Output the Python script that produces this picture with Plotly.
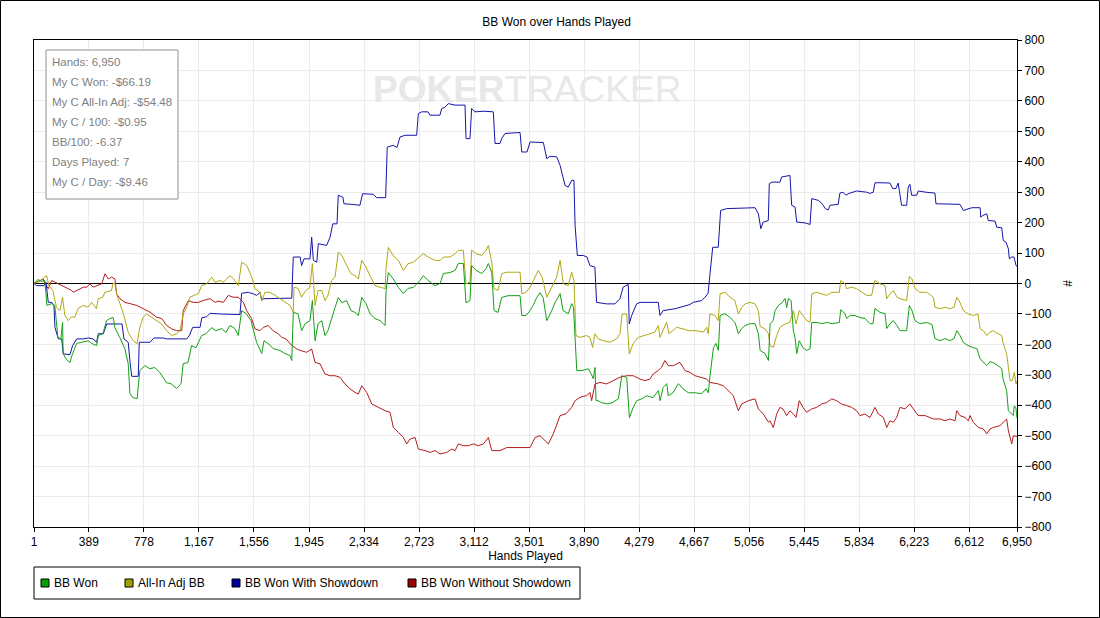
import plotly.graph_objects as go

# ---- data (hands played, BB) ----
tick_hands = [1, 389, 778, 1167, 1556, 1945, 2334, 2723, 3112, 3501, 3890,
              4279, 4667, 5056, 5445, 5834, 6223, 6612, 6950]

bb_won = [
    (1, 0), (28, 13), (57, 7), (78, 10), (92, -72), (127, -66), (148, -72), (170, -178),
    (191, -181), (203, -128), (207, -230), (226, -247), (255, -260), (269, -237), (302, -197),
    (339, -194), (384, -188), (410, -197), (443, -204), (456, -171), (488, -165), (514, -122),
    (537, -115), (561, -112), (573, -145), (608, -178), (643, -214), (667, -263), (679, -362),
    (700, -375), (730, -378), (749, -286), (785, -270), (820, -280), (855, -276), (891, -293),
    (938, -326), (969, -329), (1009, -345), (1040, -329), (1056, -263), (1089, -260),
    (1115, -204), (1146, -211), (1186, -171), (1217, -165), (1257, -145), (1287, -155),
    (1329, -148), (1357, -161), (1386, -138), (1421, -148), (1445, -171), (1469, -89),
    (1500, -99), (1535, -122), (1575, -194), (1611, -230), (1627, -188), (1655, -197),
    (1693, -214), (1740, -220), (1775, -230), (1811, -237), (1823, -253), (1834, -95),
    (1867, -99), (1893, -155), (1917, -132), (1952, -122), (1969, -56), (1988, -188),
    (2009, -132), (2035, -122), (2058, -171), (2079, -155), (2105, -112), (2129, -79),
    (2152, -46), (2178, -63), (2211, -56), (2242, -89), (2270, -95), (2294, -105),
    (2318, -46), (2348, -66), (2376, -99), (2412, -115), (2447, -122), (2483, -138),
    (2490, -23), (2506, 36), (2539, 16), (2577, -13), (2612, -33), (2645, -16), (2683, -13),
    (2730, 10), (2753, 26), (2787, 10), (2836, -7), (2872, 0), (2895, 33), (2942, 36),
    (2978, 43), (3001, 66), (3036, 66), (3055, -63), (3083, -56), (3095, 59), (3126, 43),
    (3166, 33), (3197, 49), (3213, 66), (3237, 36), (3253, -89), (3281, -95), (3307, -46),
    (3352, -40), (3402, -40), (3437, -40), (3449, -105), (3479, -105), (3508, -89),
    (3529, -72), (3555, -46), (3578, -30), (3600, -46), (3626, -122), (3661, -89),
    (3684, -63), (3720, -33), (3741, -89), (3778, -99), (3802, -66), (3815, -79),
    (3826, -188), (3838, -286), (3875, -286), (3920, -280), (3939, -296), (3955, -313),
    (3967, -276), (3974, -385), (3988, -385), (4014, -392), (4052, -395), (4087, -392),
    (4132, -379), (4156, -303), (4191, -309), (4210, -441), (4236, -408), (4262, -385),
    (4297, -379), (4333, -369), (4377, -375), (4415, -352), (4427, -385), (4448, -342),
    (4474, -329), (4485, -369), (4518, -359), (4556, -329), (4589, -346), (4627, -359),
    (4674, -359), (4721, -362), (4752, -346), (4768, -359), (4780, -303), (4804, -211),
    (4822, -197), (4839, -220), (4851, -105), (4886, -99), (4922, -112), (4957, -128),
    (4980, -165), (5004, -148), (5028, -138), (5063, -132), (5098, -132), (5122, -165),
    (5134, -220), (5169, -230), (5193, -253), (5205, -132), (5226, -122), (5240, -89),
    (5263, -72), (5289, -63), (5310, -49), (5322, -79), (5334, -49), (5353, -56),
    (5369, -155), (5381, -178), (5393, -230), (5411, -188), (5437, -211), (5463, -220),
    (5487, -214), (5499, -128), (5536, -128), (5571, -132), (5605, -128), (5643, -132),
    (5694, -128), (5704, -86), (5734, -99), (5746, -115), (5770, -105), (5805, -105),
    (5840, -112), (5876, -115), (5911, -132), (5932, -132), (5946, -82), (5982, -95),
    (6017, -99), (6029, -148), (6052, -132), (6076, -122), (6102, -138), (6123, -155),
    (6170, -155), (6189, -72), (6208, -89), (6229, -122), (6264, -132), (6312, -128),
    (6349, -135), (6370, -181), (6406, -188), (6441, -181), (6476, -188), (6505, -181),
    (6524, -155), (6547, -171), (6571, -194), (6604, -204), (6641, -211), (6667, -214),
    (6689, -247), (6717, -260), (6736, -270), (6759, -257), (6783, -260), (6816, -270),
    (6842, -280), (6851, -313), (6877, -352), (6889, -418), (6908, -428), (6924, -434),
    (6931, -402), (6943, -411), (6950, -443),
]

allin_adj_bb = [
    (1, 0), (42, 7), (90, 26), (106, -7), (134, -23), (160, -78), (184, -89), (203, -45),
    (219, -105), (243, -122), (267, -109), (290, -111), (313, -82), (349, -72), (382, -78),
    (408, -62), (443, -83), (455, -50), (488, -45), (502, -29), (549, -23), (559, 0),
    (573, 0), (585, -34), (620, -82), (636, -105), (667, -160), (702, -188), (730, -198),
    (749, -144), (773, -111), (797, -100), (832, -111), (868, -122), (903, -133),
    (938, -155), (974, -171), (1009, -165), (1033, -155), (1056, -100), (1080, -78),
    (1104, -45), (1139, -39), (1163, -33), (1186, -7), (1222, -1), (1257, 21), (1281, 4),
    (1316, 10), (1339, 4), (1363, 15), (1386, 26), (1422, 10), (1445, -7), (1469, 70),
    (1505, 59), (1540, 21), (1563, -17), (1599, -29), (1611, -56), (1634, -29),
    (1669, -29), (1705, -39), (1740, -50), (1775, -62), (1811, -72), (1834, -94),
    (1839, -12), (1867, -16), (1893, -45), (1917, -26), (1952, -12), (1969, 65),
    (1988, -72), (2009, -23), (2035, -23), (2058, -56), (2079, -39), (2105, 10), (2129, 21),
    (2152, 103), (2178, 92), (2211, 59), (2242, 32), (2270, 26), (2294, 15), (2318, 76),
    (2348, 54), (2376, 26), (2412, -7), (2447, -12), (2483, -17), (2490, 54), (2506, 119),
    (2539, 92), (2577, 76), (2612, 43), (2645, 65), (2683, 70), (2730, 87), (2753, 98),
    (2787, 87), (2836, 76), (2872, 76), (2895, 87), (2942, 87), (2978, 98), (3001, 109),
    (3036, 109), (3055, -1), (3083, 4), (3095, 109), (3126, 98), (3166, 92), (3197, 109),
    (3213, 125), (3237, 70), (3253, -17), (3281, -23), (3307, 32), (3338, 37), (3380, 37),
    (3437, 37), (3449, -34), (3479, -29), (3508, -12), (3536, 15), (3566, 43), (3593, 21),
    (3626, -45), (3661, -12), (3696, 21), (3720, 76), (3743, -1), (3778, -7), (3802, 37),
    (3818, 10), (3832, -171), (3860, -177), (3908, -171), (3931, -177), (3950, -210),
    (3966, -165), (3990, -182), (4025, -188), (4072, -193), (4120, -182), (4143, -165),
    (4159, -100), (4191, -100), (4209, -231), (4236, -198), (4273, -177), (4308, -171),
    (4355, -165), (4390, -160), (4414, -138), (4426, -177), (4461, -138), (4473, -127),
    (4490, -165), (4544, -144), (4589, -149), (4626, -155), (4685, -155), (4732, -160),
    (4756, -144), (4767, -165), (4779, -100), (4815, -105), (4838, -122), (4851, -34),
    (4886, -29), (4921, -45), (4956, -56), (4980, -100), (5004, -78), (5028, -67),
    (5063, -62), (5098, -67), (5122, -89), (5134, -141), (5169, -149), (5193, -165),
    (5204, -204), (5227, -210), (5251, -171), (5274, -144), (5310, -133), (5345, -127),
    (5369, -89), (5388, -133), (5411, -89), (5437, -105), (5463, -122), (5487, -127),
    (5499, -34), (5534, -29), (5569, -34), (5605, -39), (5640, -29), (5694, -29),
    (5704, 10), (5734, -1), (5746, -17), (5781, -12), (5816, -17), (5852, -29),
    (5887, -39), (5922, -39), (5946, 10), (5982, -1), (6017, -7), (6029, -50), (6052, -34),
    (6076, -23), (6102, -45), (6123, -50), (6170, -56), (6189, 23), (6208, 15),
    (6229, -17), (6264, -29), (6312, -29), (6359, -45), (6370, -78), (6406, -83),
    (6441, -78), (6476, -83), (6505, -78), (6524, -45), (6547, -62), (6571, -89),
    (6604, -100), (6641, -105), (6674, -100), (6689, -149), (6712, -155), (6736, -171),
    (6759, -160), (6783, -155), (6816, -165), (6842, -171), (6853, -198), (6877, -231),
    (6889, -275), (6901, -319), (6917, -319), (6931, -292), (6943, -330), (6950, -320),
]

bb_with_showdown = [
    (1, 0), (20, -7), (72, -7), (86, 4), (102, -62), (126, -62), (142, -72), (149, -144),
    (173, -182), (197, -182), (208, -231), (255, -234), (274, -204), (303, -182),
    (349, -182), (385, -179), (418, -182), (444, -193), (455, -165), (491, -165),
    (515, -133), (597, -133), (623, -133), (637, -182), (667, -193), (680, -259),
    (692, -305), (738, -305), (745, -193), (793, -193), (821, -193), (849, -179),
    (915, -179), (939, -182), (1081, -182), (1099, -171), (1123, -144), (1175, -144),
    (1187, -113), (1222, -109), (1245, -98), (1316, -100), (1386, -100), (1457, -102),
    (1469, -32), (1516, -29), (1551, -34), (1575, -39), (1599, -29), (1611, -56),
    (1622, -50), (1705, -50), (1764, -50), (1823, -48), (1834, 87), (1882, 87), (1893, 59),
    (1910, 81), (1952, 81), (1964, 152), (1976, 76), (2000, 70), (2011, 131), (2070, 125),
    (2094, 152), (2113, 196), (2143, 196), (2152, 290), (2185, 283), (2192, 262),
    (2249, 260), (2305, 257), (2324, 295), (2399, 293), (2423, 282), (2487, 282),
    (2498, 448), (2541, 454), (2567, 447), (2588, 481), (2623, 487), (2706, 487),
    (2718, 558), (2742, 564), (2786, 564), (2800, 553), (2871, 553), (2883, 575),
    (2906, 579), (2930, 591), (2977, 586), (3048, 586), (3055, 476), (3083, 476),
    (3095, 575), (3118, 564), (3182, 566), (3248, 564), (3260, 460), (3295, 460),
    (3307, 476), (3331, 493), (3437, 496), (3449, 432), (3486, 432), (3508, 465),
    (3602, 463), (3626, 410), (3649, 418), (3696, 416), (3720, 388), (3743, 339),
    (3755, 322), (3778, 317), (3802, 339), (3818, 339), (3826, 191), (3842, 92),
    (3884, 92), (3910, 87), (3931, 59), (3966, 54), (3978, -62), (4049, -67), (4108, -67),
    (4143, -50), (4166, -12), (4202, -3), (4209, -133), (4226, -105), (4261, -67),
    (4285, -62), (4414, -62), (4426, -105), (4449, -89), (4532, -83), (4589, -76),
    (4638, -69), (4661, -62), (4721, -56), (4744, -45), (4766, -33), (4780, 32),
    (4799, 119), (4838, 119), (4855, 240), (4898, 246), (4992, 247), (5098, 249),
    (5122, 229), (5139, 180), (5155, 201), (5192, 207), (5199, 328), (5218, 333),
    (5274, 333), (5286, 350), (5345, 355), (5357, 257), (5381, 251), (5393, 202),
    (5452, 199), (5487, 194), (5499, 279), (5546, 273), (5571, 263), (5595, 246),
    (5616, 242), (5628, 257), (5686, 260), (5698, 297), (5720, 300), (5741, 290),
    (5757, 295), (5816, 304), (5887, 300), (5910, 296), (5934, 300), (5946, 331),
    (5995, 331), (6052, 330), (6071, 312), (6094, 312), (6110, 330), (6134, 257),
    (6170, 257), (6181, 317), (6193, 326), (6205, 290), (6241, 290), (6252, 304),
    (6306, 300), (6370, 297), (6377, 262), (6448, 262), (6547, 260), (6571, 240),
    (6606, 246), (6632, 249), (6689, 249), (6694, 218), (6710, 224), (6736, 229),
    (6747, 207), (6795, 205), (6807, 185), (6842, 183), (6853, 141), (6872, 136),
    (6889, 114), (6896, 81), (6913, 87), (6929, 87), (6943, 59), (6950, 56),
]

bb_without_showdown = [
    (1, 0), (29, 7), (66, 15), (78, 0), (102, -17), (126, 10), (149, 4), (173, -1),
    (197, -7), (220, -12), (243, -17), (267, -23), (279, -29), (303, -23), (326, -17),
    (350, -12), (374, -12), (397, -1), (420, -12), (444, -7), (480, -1), (503, 32),
    (526, 15), (550, 21), (573, 15), (585, -34), (609, -50), (644, -62), (680, -67),
    (727, -72), (774, -83), (821, -94), (868, -111), (904, -115), (939, -138), (974, -149),
    (1010, -155), (1045, -155), (1056, -89), (1092, -56), (1125, -62), (1163, -62),
    (1196, -56), (1245, -50), (1281, -62), (1302, -58), (1339, -62), (1375, -39),
    (1408, -45), (1445, -45), (1481, -62), (1504, -89), (1540, -116), (1563, -149),
    (1599, -155), (1622, -144), (1657, -138), (1691, -155), (1728, -165), (1752, -177),
    (1783, -182), (1811, -198), (1858, -215), (1882, -220), (1929, -226), (1964, -215),
    (1988, -259), (2023, -264), (2058, -297), (2094, -303), (2129, -303), (2164, -308),
    (2199, -330), (2235, -346), (2270, -358), (2294, -363), (2318, -336), (2353, -358),
    (2389, -396), (2436, -407), (2483, -418), (2518, -423), (2541, -473), (2577, -489),
    (2612, -506), (2636, -527), (2660, -511), (2695, -506), (2718, -544), (2765, -549),
    (2801, -555), (2836, -549), (2871, -560), (2918, -555), (2954, -544), (2978, -549),
    (3001, -527), (3036, -533), (3072, -533), (3107, -527), (3142, -533), (3178, -527),
    (3213, -506), (3237, -549), (3274, -549), (3295, -549), (3343, -539), (3402, -540),
    (3451, -539), (3508, -539), (3543, -506), (3578, -500), (3614, -517), (3637, -527),
    (3672, -494), (3696, -462), (3720, -434), (3762, -428), (3802, -407), (3826, -385),
    (3861, -374), (3908, -368), (3932, -358), (3943, -385), (3953, -362), (3967, -330),
    (4002, -325), (4049, -330), (4096, -319), (4143, -308), (4191, -303), (4238, -303),
    (4285, -314), (4320, -319), (4355, -314), (4379, -297), (4414, -286), (4438, -275),
    (4461, -253), (4485, -270), (4520, -270), (4567, -259), (4603, -286), (4638, -292),
    (4674, -303), (4721, -308), (4756, -314), (4780, -325), (4838, -330), (4874, -336),
    (4909, -352), (4944, -368), (4980, -418), (5004, -396), (5051, -385), (5098, -379),
    (5122, -412), (5157, -429), (5193, -456), (5204, -451), (5227, -473), (5251, -429),
    (5274, -407), (5295, -412), (5322, -434), (5345, -418), (5369, -429), (5388, -440),
    (5411, -385), (5437, -407), (5463, -423), (5499, -412), (5534, -407), (5569, -396),
    (5605, -391), (5640, -379), (5675, -385), (5710, -396), (5746, -401), (5781, -407),
    (5816, -418), (5840, -434), (5875, -429), (5911, -440), (5946, -407), (5970, -429),
    (6005, -440), (6029, -473), (6052, -451), (6076, -456), (6099, -440), (6123, -407),
    (6158, -412), (6193, -396), (6217, -412), (6252, -434), (6300, -434), (6359, -445),
    (6406, -445), (6441, -451), (6476, -445), (6512, -451), (6524, -418), (6547, -434),
    (6582, -440), (6606, -451), (6618, -434), (6641, -456), (6677, -473), (6712, -478),
    (6736, -494), (6759, -478), (6783, -473), (6830, -467), (6865, -451), (6877, -445),
    (6889, -484), (6913, -527), (6924, -500), (6943, -503), (6950, -503),
]

stats_lines = ["Hands: 6,950", "My C Won: -$66.19", "My C All-In Adj: -$54.48",
               "My C / 100: -$0.95", "BB/100: -6.37", "Days Played: 7", "My C / Day: -$9.46"]

# name, points, line colour, legend swatch colour
series = [
    ("BB Won", bb_won, "#14a014", "#00a000"),
    ("All-In Adj BB", allin_adj_bb, "#b0a814", "#a0a000"),
    ("BB Won With Showdown", bb_with_showdown, "#1414aa", "#0000a0"),
    ("BB Won Without Showdown", bb_without_showdown, "#b41c1c", "#a00000"),
]

# plot area in pixels: x 34..1017, y 40..527
L, R, T, B = 34, 1017, 40, 527


def fx(px):
    return (px - L) / (R - L)


def fy(py):
    return (B - py) / (B - T)


fig = go.Figure()

# draw red/blue/yellow first so green sits on top
for name, pts, color, _ in [series[3], series[2], series[1], series[0]]:
    xs, ys = zip(*pts)
    fig.add_trace(go.Scatter(
        x=xs, y=ys, mode="lines", name=name,
        line=dict(color=color, width=1),
        showlegend=False,
        hovertemplate="Hands: %{x:,}<br>%{y} BB<extra>" + name + "</extra>",
    ))

shapes = []
annotations = []

# outer frame of the whole picture
shapes.append(dict(type="rect", xref="paper", yref="paper",
                   x0=fx(0.5), x1=fx(1099.5), y0=fy(617.5), y1=fy(0.5),
                   line=dict(color="black", width=1), fillcolor="rgba(0,0,0,0)"))

# --- stats box ---
shapes.append(dict(type="rect", xref="paper", yref="paper", layer="above",
                   x0=fx(46), x1=fx(178), y0=fy(199), y1=fy(50),
                   line=dict(color="#909090", width=1), fillcolor="white"))
for i, txt in enumerate(stats_lines):
    annotations.append(dict(text=txt, xref="paper", yref="paper",
                            x=fx(50), y=fy(62 + 20 * i), xanchor="left", yanchor="middle",
                            showarrow=False, font=dict(size=11.5, color="#808080")))

# --- watermark ---
annotations.append(dict(text="<b>POKER</b>TRACKER", xref="paper", yref="paper",
                        x=fx(527), y=fy(89), xanchor="center", yanchor="middle",
                        showarrow=False,
                        font=dict(family="Liberation Sans, Arial, sans-serif",
                                  size=37, color="#e8e8e8")))

# --- legend (drawn by hand to get the square swatches) ---
shapes.append(dict(type="rect", xref="paper", yref="paper",
                   x0=fx(34), x1=fx(580), y0=fy(599), y1=fy(567),
                   line=dict(color="black", width=1), fillcolor="white"))
legend_x = [41, 125, 232, 408]
for (name, _, _, swatch), lx in zip(series, legend_x):
    shapes.append(dict(type="rect", xref="paper", yref="paper",
                       x0=fx(lx), x1=fx(lx + 8), y0=fy(587), y1=fy(579),
                       line=dict(color="black", width=1), fillcolor=swatch))
    annotations.append(dict(text=name, xref="paper", yref="paper",
                            x=fx(lx + 11), y=fy(583), xanchor="left", yanchor="middle",
                            showarrow=False, font=dict(size=12, color="black")))

fig.update_layout(
    width=1100, height=618,
    margin=dict(l=L, r=1100 - R, t=T, b=618 - B),
    paper_bgcolor="white", plot_bgcolor="white",
    font=dict(family="Liberation Sans, Arial, sans-serif", size=12, color="black"),
    title=dict(text="BB Won over Hands Played", x=0.506, xanchor="center",
               y=1 - 22 / 618, yanchor="middle", font=dict(size=12)),
    showlegend=False,
    shapes=shapes,
    annotations=annotations,
    xaxis=dict(
        range=[1, 6950],
        tickvals=tick_hands,
        ticktext=[f"{v:,}" for v in tick_hands],
        showgrid=True, gridcolor="#ebebeb", gridwidth=1,
        showline=True, linecolor="black", linewidth=1, mirror=True,
        ticks="outside", ticklen=4, tickcolor="black",
        zeroline=False,
        title=dict(text="Hands Played", standoff=3, font=dict(size=12)),
    ),
    yaxis=dict(
        side="right",
        range=[-800, 800], tick0=0, dtick=100,
        showgrid=True, gridcolor="#ebebeb", gridwidth=1,
        showline=True, linecolor="black", linewidth=1, mirror=True,
        ticks="outside", ticklen=4, tickcolor="black",
        zeroline=True, zerolinecolor="black", zerolinewidth=1,
        title=dict(text="#", standoff=12, font=dict(size=12)),
    ),
)

# the page's default body margin would shift the figure by 8px
fig.write_html("out.html", config={"displayModeBar": False},
               post_script="document.body.style.margin='0';")
